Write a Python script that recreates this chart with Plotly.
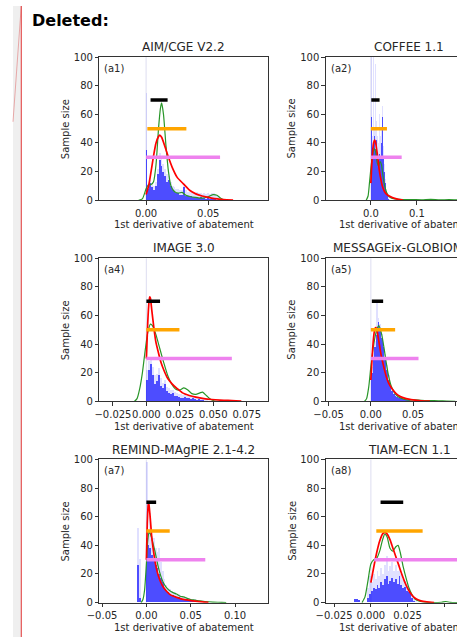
import plotly.graph_objects as go

W, H = 457, 643
FONT = "DejaVu Sans"
INK = "#262626"

# ---------------- data ----------------
TITLES = ["AIM/CGE V2.2", "COFFEE 1.1", "IMAGE 3.0", "MESSAGEix-GLOBIOM 1.1",
          "REMIND-MAgPIE 2.1-4.2", "TIAM-ECN 1.1"]
TAGS = ["(a1)", "(a2)", "(a4)", "(a5)", "(a7)", "(a8)"]
Y_TICKS = [0, 20, 40, 60, 80, 100]
INTERVAL_LEVELS = [70, 50, 30]          # black, orange, violet
XLABEL = "1st derivative of abatement"
YLABEL = "Sample size"
HEADER = "Deleted:"

# (a1) AIM/CGE V2.2
A1_XTICKS = [0.0, 0.05]
A1_HIST_START, A1_HIST_BIN = 0.0, 0.0015
A1_HIST_DENSE = [35, 8, 12, 9, 7, 10, 18, 28, 24, 20, 17, 13, 14, 10, 7, 6, 5, 5, 4, 4,
                 9, 3, 3, 2.5, 3, 2, 2, 2, 1.5, 2, 1.5, 1.5, 1, 1.5, 1, 1, 1.5, 1, 0.5, 0.5]
A1_HIST_LIGHT = [75, 10, 14, 12, 10, 13, 22, 33, 30, 25, 22, 18, 17, 13, 10, 9, 8, 8, 7, 7,
                 10, 7, 6, 6, 5.5, 5, 5, 5.5, 5, 5, 4.5, 5, 4.5, 5, 4.5, 5, 5, 4.5, 4, 3]
A1_GREEN_X = [-0.006, -0.003, 0.0, 0.002, 0.004, 0.006, 0.008, 0.010, 0.0115, 0.0125,
              0.014, 0.016, 0.018, 0.020, 0.023, 0.026, 0.029, 0.032, 0.036, 0.040,
              0.045, 0.050, 0.054, 0.057, 0.060, 0.063, 0.066]
A1_GREEN_Y = [0, 1, 8, 11, 11, 13, 25, 50, 64, 68, 60, 38, 20, 10, 6, 5, 5.5, 3.5, 2.5, 2,
              1.5, 2.5, 4, 3.5, 1.5, 0.3, 0]
A1_RED_X = [0.0, 0.002, 0.004, 0.006, 0.008, 0.010, 0.011, 0.0125, 0.015, 0.018, 0.021,
            0.025, 0.030, 0.035, 0.040, 0.045, 0.050, 0.055, 0.060, 0.065, 0.070]
A1_RED_Y = [4, 10, 20, 31, 40, 44.5, 45.5, 44, 38, 30, 23, 16, 11.5, 7, 4.5, 3, 2, 1.2,
            0.7, 0.4, 0.2]
A1_BLACK, A1_ORANGE, A1_VIOLET = [0.0036, 0.0173], [0.001, 0.0324], [0.0, 0.0595]

# (a2) COFFEE 1.1
A2_XTICKS = [0.0, 0.1, 0.2]
A2_HIST_START, A2_HIST_BIN = 0.0, 0.002
A2_HIST_DENSE = [58, 34, 40, 45, 36, 42, 33, 30, 28, 32, 30, 40, 58, 30, 20, 12, 6, 3, 2, 1, 0.5]
A2_HIST_LIGHT = [110, 45, 110, 50, 95, 55, 110, 45, 40, 60, 45, 50, 66, 38, 25, 15, 8, 5, 3, 2, 1]
A2_GREEN_X = [-0.010, -0.006, -0.003, 0.0, 0.003, 0.006, 0.008, 0.011, 0.014, 0.017, 0.020,
              0.023, 0.026, 0.030, 0.035, 0.040, 0.045, 0.055, 0.070, 0.090, 0.110, 0.130,
              0.150, 0.170, 0.190]
A2_GREEN_Y = [0, 3, 12, 22, 30, 35, 36, 33, 26, 24, 27, 25, 18, 10, 5, 2.5, 1.5, 0.8, 0.5,
              0.5, 0.3, 0.6, 0.3, 0.5, 0.2]
A2_RED_X = [0.0, 0.002, 0.004, 0.006, 0.008, 0.010, 0.012, 0.015, 0.018, 0.021, 0.025,
            0.030, 0.035, 0.040, 0.050, 0.060, 0.070]
A2_RED_Y = [12, 25, 35, 40, 42, 41, 37, 30, 22, 16, 10, 6, 4, 3, 1.5, 0.7, 0.2]
A2_BLACK, A2_ORANGE, A2_VIOLET = [0.001, 0.019], [0.0, 0.035], [0.0, 0.067]

# (a4) IMAGE 3.0
A4_XTICKS = [-0.025, 0.0, 0.025, 0.05, 0.075]
A4_HIST_START, A4_HIST_BIN = 0.0, 0.0015
A4_HIST_DENSE = [15, 22, 26, 18, 12, 14, 18, 11, 9, 12, 7, 6, 5, 6, 4, 3.5, 3, 2.5, 2, 3,
                 2, 2, 1.5, 2, 1.5, 1, 1.5, 1, 1, 0.5, 0.5]
A4_HIST_LIGHT = [22, 28, 30, 24, 18, 19, 23, 16, 13, 15, 10, 9, 8, 8, 6.5, 6, 5, 5, 4.5, 5,
                 4, 4, 3.5, 4, 3.5, 3, 3, 2.5, 2, 1.5, 1]
A4_GREEN_X = [-0.009, -0.007, -0.005, -0.003, -0.001, 0.001, 0.003, 0.0045, 0.007, 0.010,
              0.013, 0.016, 0.019, 0.022, 0.025, 0.028, 0.031, 0.034, 0.037, 0.040, 0.042,
              0.045, 0.048, 0.051, 0.055]
A4_GREEN_Y = [0, 2, 9, 20, 35, 48, 54, 53, 47, 37, 27, 18, 12, 8.5, 8, 9.5, 8, 5.5, 5, 6,
              6.5, 4, 1.5, 0.3, 0]
A4_RED_X = [0.0, 0.001, 0.002, 0.0025, 0.003, 0.004, 0.0055, 0.007, 0.009, 0.011, 0.013,
            0.016, 0.019, 0.023, 0.027, 0.032, 0.037, 0.043, 0.049, 0.055, 0.061, 0.067, 0.071]
A4_RED_Y = [30, 55, 70, 73, 72, 64, 52, 42, 34, 27, 22, 16, 12.5, 9, 6, 4.2, 3, 2, 1.4, 1,
            0.7, 0.4, 0.3]
A4_BLACK, A4_ORANGE, A4_VIOLET = [0.0, 0.0102], [0.0, 0.0247], [0.0, 0.0639]

# (a5) MESSAGEix-GLOBIOM
A5_XTICKS = [-0.05, 0.0, 0.05, 0.10]
A5_HIST_START, A5_HIST_BIN = 0.0, 0.002
A5_HIST_DENSE = [20, 30, 38, 46, 55, 50, 44, 38, 30, 22, 15, 10, 7, 5, 4, 3, 2.5, 2, 1.5,
                 1.5, 1, 1, 0.8, 0.5, 0.5]
A5_HIST_LIGHT = [24, 34, 42, 69, 58, 54, 47, 40, 33, 25, 18, 13, 9, 7, 5, 4, 3.5, 3, 2.5,
                 2, 1.5, 1.5, 1, 1, 0.5]
A5_GREEN_X = [-0.0075, -0.005, -0.0025, 0.0, 0.0025, 0.005, 0.0075, 0.0095, 0.0115, 0.0135,
              0.016, 0.018, 0.021, 0.024, 0.027, 0.031, 0.035, 0.040, 0.045, 0.052, 0.060,
              0.070, 0.080, 0.090, 0.100]
A5_GREEN_Y = [0, 2, 10, 24, 36, 45, 51, 53, 50, 45, 36, 28, 18, 11, 7, 4, 2.5, 1.5, 1, 1.2,
              0.8, 0.6, 0.5, 0.3, 0.1]
A5_RED_X = [0.0, 0.001, 0.002, 0.0035, 0.005, 0.006, 0.0075, 0.0095, 0.012, 0.015, 0.018,
            0.021, 0.025, 0.030, 0.035, 0.040, 0.045, 0.050, 0.060, 0.070]
A5_RED_Y = [15, 25, 35, 46, 51, 51.5, 49, 42, 33, 25, 18, 13, 9, 5.5, 3.5, 2.3, 1.6, 1.1,
            0.5, 0.2]
A5_BLACK, A5_ORANGE, A5_VIOLET = [0.0012, 0.0146], [0.0, 0.0288], [0.0, 0.0565]

# (a7) REMIND-MAgPIE 2.1-4.2
A7_XTICKS = [-0.05, 0.0, 0.05, 0.10]
A7_HIST_START, A7_HIST_BIN = -0.010, 0.002
A7_HIST_DENSE = [26, 3, 0, 0, 0, 45, 40, 38, 33, 30, 26, 24, 20, 17, 14, 10, 8, 7, 6, 5,
                 5, 4.5, 4, 3.5, 3, 2.5, 2.5, 2, 2, 1.5, 1.5, 1, 1, 1, 0.5, 0.5]
A7_HIST_LIGHT = [52, 30, 0, 0, 0, 98, 50, 62, 46, 45, 38, 35, 38, 28, 22, 16, 12, 10, 9, 8,
                 7.5, 7, 6, 5.5, 5, 4.5, 4, 3.5, 3, 3, 2.5, 2, 2, 1.5, 1, 1]
A7_GREEN_X = [-0.006, -0.004, -0.002, 0.0, 0.0015, 0.003, 0.0045, 0.006, 0.008, 0.010,
              0.013, 0.016, 0.019, 0.022, 0.026, 0.030, 0.034, 0.038, 0.042, 0.046, 0.050,
              0.055, 0.060, 0.066, 0.075, 0.085, 0.090]
A7_GREEN_Y = [0, 2, 9, 27, 43, 49, 48, 45, 40, 35, 26, 19, 14, 11, 8.5, 7, 6, 4.5, 4, 3,
              2.2, 1.8, 1.2, 0.8, 0.4, 0.2, 0]
A7_RED_X = [0.0, 0.001, 0.002, 0.0025, 0.003, 0.0045, 0.006, 0.008, 0.010, 0.012, 0.015,
            0.018, 0.022, 0.026, 0.030, 0.035, 0.040, 0.045, 0.050, 0.055, 0.060, 0.065, 0.070]
A7_RED_Y = [30, 55, 68, 69.5, 68, 58, 46, 36, 28, 22, 16, 12, 8.5, 6, 4.6, 3.5, 2.5, 1.9,
            1.4, 1, 0.7, 0.4, 0.2]
A7_BLACK, A7_ORANGE, A7_VIOLET = [0.0, 0.011], [0.0, 0.0263], [0.0, 0.0664]

# (a8) TIAM-ECN 1.1
A8_XTICKS = [-0.025, 0.0, 0.025, 0.05]
A8_HIST_START, A8_HIST_BIN = -0.01125, 0.00125
A8_HIST_DENSE = [2, 2.5, 1.5, 0, 0, 0, 0, 3, 6, 8, 10, 9, 12, 10, 14, 12, 16, 18, 13, 15,
                 17, 14, 16, 13, 18, 12, 10, 11, 8, 7, 6, 3, 1, 0.5]
A8_HIST_LIGHT = [2, 2.5, 1.5, 0, 0, 0, 0, 10, 18, 14, 20, 16, 22, 18, 24, 20, 26, 32, 22, 25,
                 28, 22, 26, 22, 27, 20, 16, 15, 12, 10, 8, 5, 2, 1]
A8_GREEN_X = [-0.006, -0.004, -0.002, 0.0, 0.002, 0.004, 0.006, 0.008, 0.0095, 0.011, 0.013,
              0.015, 0.017, 0.0185, 0.020, 0.022, 0.024, 0.026, 0.028, 0.030, 0.033, 0.037,
              0.042, 0.048, 0.051, 0.054, 0.060]
A8_GREEN_Y = [0, 4, 15, 27, 30, 31, 36, 44, 48, 46, 38, 36, 39, 40, 35, 25, 17, 10, 5.5,
              2.5, 1, 0.3, 0.1, 0.3, 0.8, 0.2, 0]
A8_RED_X = [0.0, 0.002, 0.004, 0.006, 0.008, 0.0095, 0.011, 0.013, 0.015, 0.017, 0.019,
            0.021, 0.023, 0.025, 0.027, 0.029, 0.031, 0.034, 0.038, 0.043]
A8_RED_Y = [14, 25, 35, 43, 48, 49, 48, 44, 38, 32, 26, 20, 14.5, 10, 6.5, 4, 2.5, 1.2,
            0.5, 0.1]
A8_BLACK, A8_ORANGE, A8_VIOLET = [0.0066, 0.022], [0.0037, 0.0352], [0.0022, 0.075]

# ---------------- layout of panels (pixels) ----------------
COL_PX = [(89, 262), (322, 494)]
ROW_PX = [(52, 198), (257, 403), (462, 608)]

PANELS = [
    dict(row=0, col=0, xr=[-0.0375, 0.0977], xt=A1_XTICKS, fmt=".2f",
         h0=A1_HIST_START, hw=A1_HIST_BIN, dense=A1_HIST_DENSE, light=A1_HIST_LIGHT,
         gx=A1_GREEN_X, gy=A1_GREEN_Y, rx=A1_RED_X, ry=A1_RED_Y,
         iv=[A1_BLACK, A1_ORANGE, A1_VIOLET]),
    dict(row=0, col=1, xr=[-0.0977, 0.2652], xt=A2_XTICKS, fmt=".1f",
         h0=A2_HIST_START, hw=A2_HIST_BIN, dense=A2_HIST_DENSE, light=A2_HIST_LIGHT,
         gx=A2_GREEN_X, gy=A2_GREEN_Y, rx=A2_RED_X, ry=A2_RED_Y,
         iv=[A2_BLACK, A2_ORANGE, A2_VIOLET]),
    dict(row=1, col=0, xr=[-0.0351, 0.0906], xt=A4_XTICKS, fmt=".3f",
         h0=A4_HIST_START, hw=A4_HIST_BIN, dense=A4_HIST_DENSE, light=A4_HIST_LIGHT,
         gx=A4_GREEN_X, gy=A4_GREEN_Y, rx=A4_RED_X, ry=A4_RED_Y,
         iv=[A4_BLACK, A4_ORANGE, A4_VIOLET]),
    dict(row=1, col=1, xr=[-0.0533, 0.1447], xt=A5_XTICKS, fmt=".2f",
         h0=A5_HIST_START, hw=A5_HIST_BIN, dense=A5_HIST_DENSE, light=A5_HIST_LIGHT,
         gx=A5_GREEN_X, gy=A5_GREEN_Y, rx=A5_RED_X, ry=A5_RED_Y,
         iv=[A5_BLACK, A5_ORANGE, A5_VIOLET]),
    dict(row=2, col=0, xr=[-0.0529, 0.1366], xt=A7_XTICKS, fmt=".2f",
         h0=A7_HIST_START, hw=A7_HIST_BIN, dense=A7_HIST_DENSE, light=A7_HIST_LIGHT,
         gx=A7_GREEN_X, gy=A7_GREEN_Y, rx=A7_RED_X, ry=A7_RED_Y,
         iv=[A7_BLACK, A7_ORANGE, A7_VIOLET]),
    dict(row=2, col=1, xr=[-0.0306, 0.0830], xt=A8_XTICKS, fmt=".3f",
         h0=A8_HIST_START, hw=A8_HIST_BIN, dense=A8_HIST_DENSE, light=A8_HIST_LIGHT,
         gx=A8_GREEN_X, gy=A8_GREEN_Y, rx=A8_RED_X, ry=A8_RED_Y,
         iv=[A8_BLACK, A8_ORANGE, A8_VIOLET]),
]

INTERVAL_COLORS = ["black", "orange", "violet"]


def px_x(p):
    return p / W


def px_y(p):
    return 1 - p / H


fig = go.Figure()
layout = {}
annotations = []
shapes = []

for i, p in enumerate(PANELS, start=1):
    x0, x1 = COL_PX[p["col"]]
    y0, y1 = ROW_PX[p["row"]]
    xr = list(p["xr"])
    vis_x1 = min(x1, W)
    if vis_x1 < x1:
        xr[1] = xr[0] + (xr[1] - xr[0]) * (vis_x1 - x0) / (x1 - x0)
    sfx = "" if i == 1 else str(i)
    xref, yref = "x" + sfx, "y" + sfx

    layout["xaxis" + sfx] = dict(
        domain=[px_x(x0), px_x(vis_x1)], range=xr, anchor=yref,
        showline=True, linecolor="#333333", linewidth=1, mirror=True,
        ticks="outside", ticklen=3.5, tickwidth=1, tickcolor="#333333",
        tickvals=p["xt"], tickformat=p["fmt"], tickangle=0,
        tickfont=dict(family=FONT, size=10, color=INK),
        showgrid=False, zeroline=False, fixedrange=True)
    layout["yaxis" + sfx] = dict(
        domain=[px_y(y1), px_y(y0)], range=[0, 100], anchor=xref,
        showline=True, linecolor="#333333", linewidth=1,
        mirror=(p["col"] == 0),
        ticks="outside", ticklen=3.5, tickwidth=1, tickcolor="#333333",
        tickvals=Y_TICKS, tickfont=dict(family=FONT, size=10, color=INK),
        showgrid=False, zeroline=False, fixedrange=True)

    # vertical reference at zero
    shapes.append(dict(type="line", xref=xref, yref=yref + " domain", x0=0, x1=0,
                       y0=0, y1=1, line=dict(color="rgba(176,176,220,0.35)", width=1.2),
                       layer="below"))

    centers = [p["h0"] + (k + 0.5) * p["hw"] for k in range(len(p["light"]))]
    fig.add_trace(go.Bar(x=centers, y=p["light"], width=[p["hw"]] * len(centers),
                         marker=dict(color="rgba(0,0,255,0.12)", line=dict(width=0)),
                         xaxis=xref, yaxis=yref, showlegend=False, hoverinfo="skip"))
    centers = [p["h0"] + (k + 0.5) * p["hw"] for k in range(len(p["dense"]))]
    fig.add_trace(go.Bar(x=centers, y=p["dense"], width=[p["hw"]] * len(centers),
                         marker=dict(color="rgba(0,0,255,0.66)", line=dict(width=0)),
                         xaxis=xref, yaxis=yref, showlegend=False, hoverinfo="skip"))
    fig.add_trace(go.Scatter(x=p["gx"], y=p["gy"], mode="lines",
                             line=dict(color="rgb(40,150,40)", width=1.2, shape="spline",
                                       smoothing=0.6),
                             xaxis=xref, yaxis=yref, showlegend=False, hoverinfo="skip"))
    fig.add_trace(go.Scatter(x=p["rx"], y=p["ry"], mode="lines",
                             line=dict(color="red", width=1.7, shape="spline", smoothing=0.6),
                             xaxis=xref, yaxis=yref, showlegend=False, hoverinfo="skip"))
    for rng, lvl, col in zip(p["iv"], INTERVAL_LEVELS, INTERVAL_COLORS):
        fig.add_trace(go.Scatter(x=rng, y=[lvl, lvl], mode="lines",
                                 line=dict(color=col, width=3.5),
                                 xaxis=xref, yaxis=yref, showlegend=False, hoverinfo="skip"))

    cx = (x0 + x1) / 2
    annotations += [
        dict(text=TITLES[i - 1], x=px_x(cx), y=px_y(y0 - 10), xref="paper", yref="paper",
             showarrow=False, xanchor="center", yanchor="middle",
             font=dict(family=FONT, size=12, color=INK)),
        dict(text=TAGS[i - 1], x=px_x(x0 + 3), y=px_y(y0 + 11.5), xref="paper", yref="paper",
             showarrow=False, xanchor="left", yanchor="middle",
             font=dict(family=FONT, size=10, color=INK)),
        dict(text=YLABEL, x=px_x(x0 - 35), y=px_y((y0 + y1) / 2), xref="paper", yref="paper",
             showarrow=False, xanchor="center", yanchor="middle", textangle=-90,
             font=dict(family=FONT, size=10, color=INK)),
        dict(text=XLABEL, x=px_x(cx), y=px_y(y1 + 25), xref="paper", yref="paper",
             showarrow=False, xanchor="center", yanchor="middle",
             font=dict(family=FONT, size=10, color=INK)),
    ]

# page decorations (tracked-change margin)
shapes += [
    dict(type="rect", xref="paper", yref="paper", x0=0, x1=px_x(8), y0=0, y1=1,
         fillcolor="#efefef", line=dict(width=0), layer="below"),
    dict(type="line", xref="paper", yref="paper", x0=px_x(8.5), x1=px_x(8.5), y0=0, y1=1,
         line=dict(color="#e03030", width=1)),
    dict(type="line", xref="paper", yref="paper", x0=px_x(8.5), x1=px_x(0), y0=1,
         y1=px_y(118), line=dict(color="rgba(220,80,80,0.45)", width=1)),
]
annotations.append(dict(text="<b>" + HEADER + "</b>", x=px_x(17), y=px_y(15),
                        xref="paper", yref="paper", showarrow=False,
                        xanchor="left", yanchor="middle",
                        font=dict(family=FONT, size=16, color="black")))

fig.update_layout(**layout)
fig.update_layout(width=W, height=H, autosize=False,
                  margin=dict(l=0, r=0, t=0, b=0, pad=0),
                  paper_bgcolor="white", plot_bgcolor="white",
                  barmode="overlay", bargap=0,
                  annotations=annotations, shapes=shapes, showlegend=False)

fig.write_html("out.html",
               post_script="document.body.style.margin='0';document.body.style.padding='0';")
